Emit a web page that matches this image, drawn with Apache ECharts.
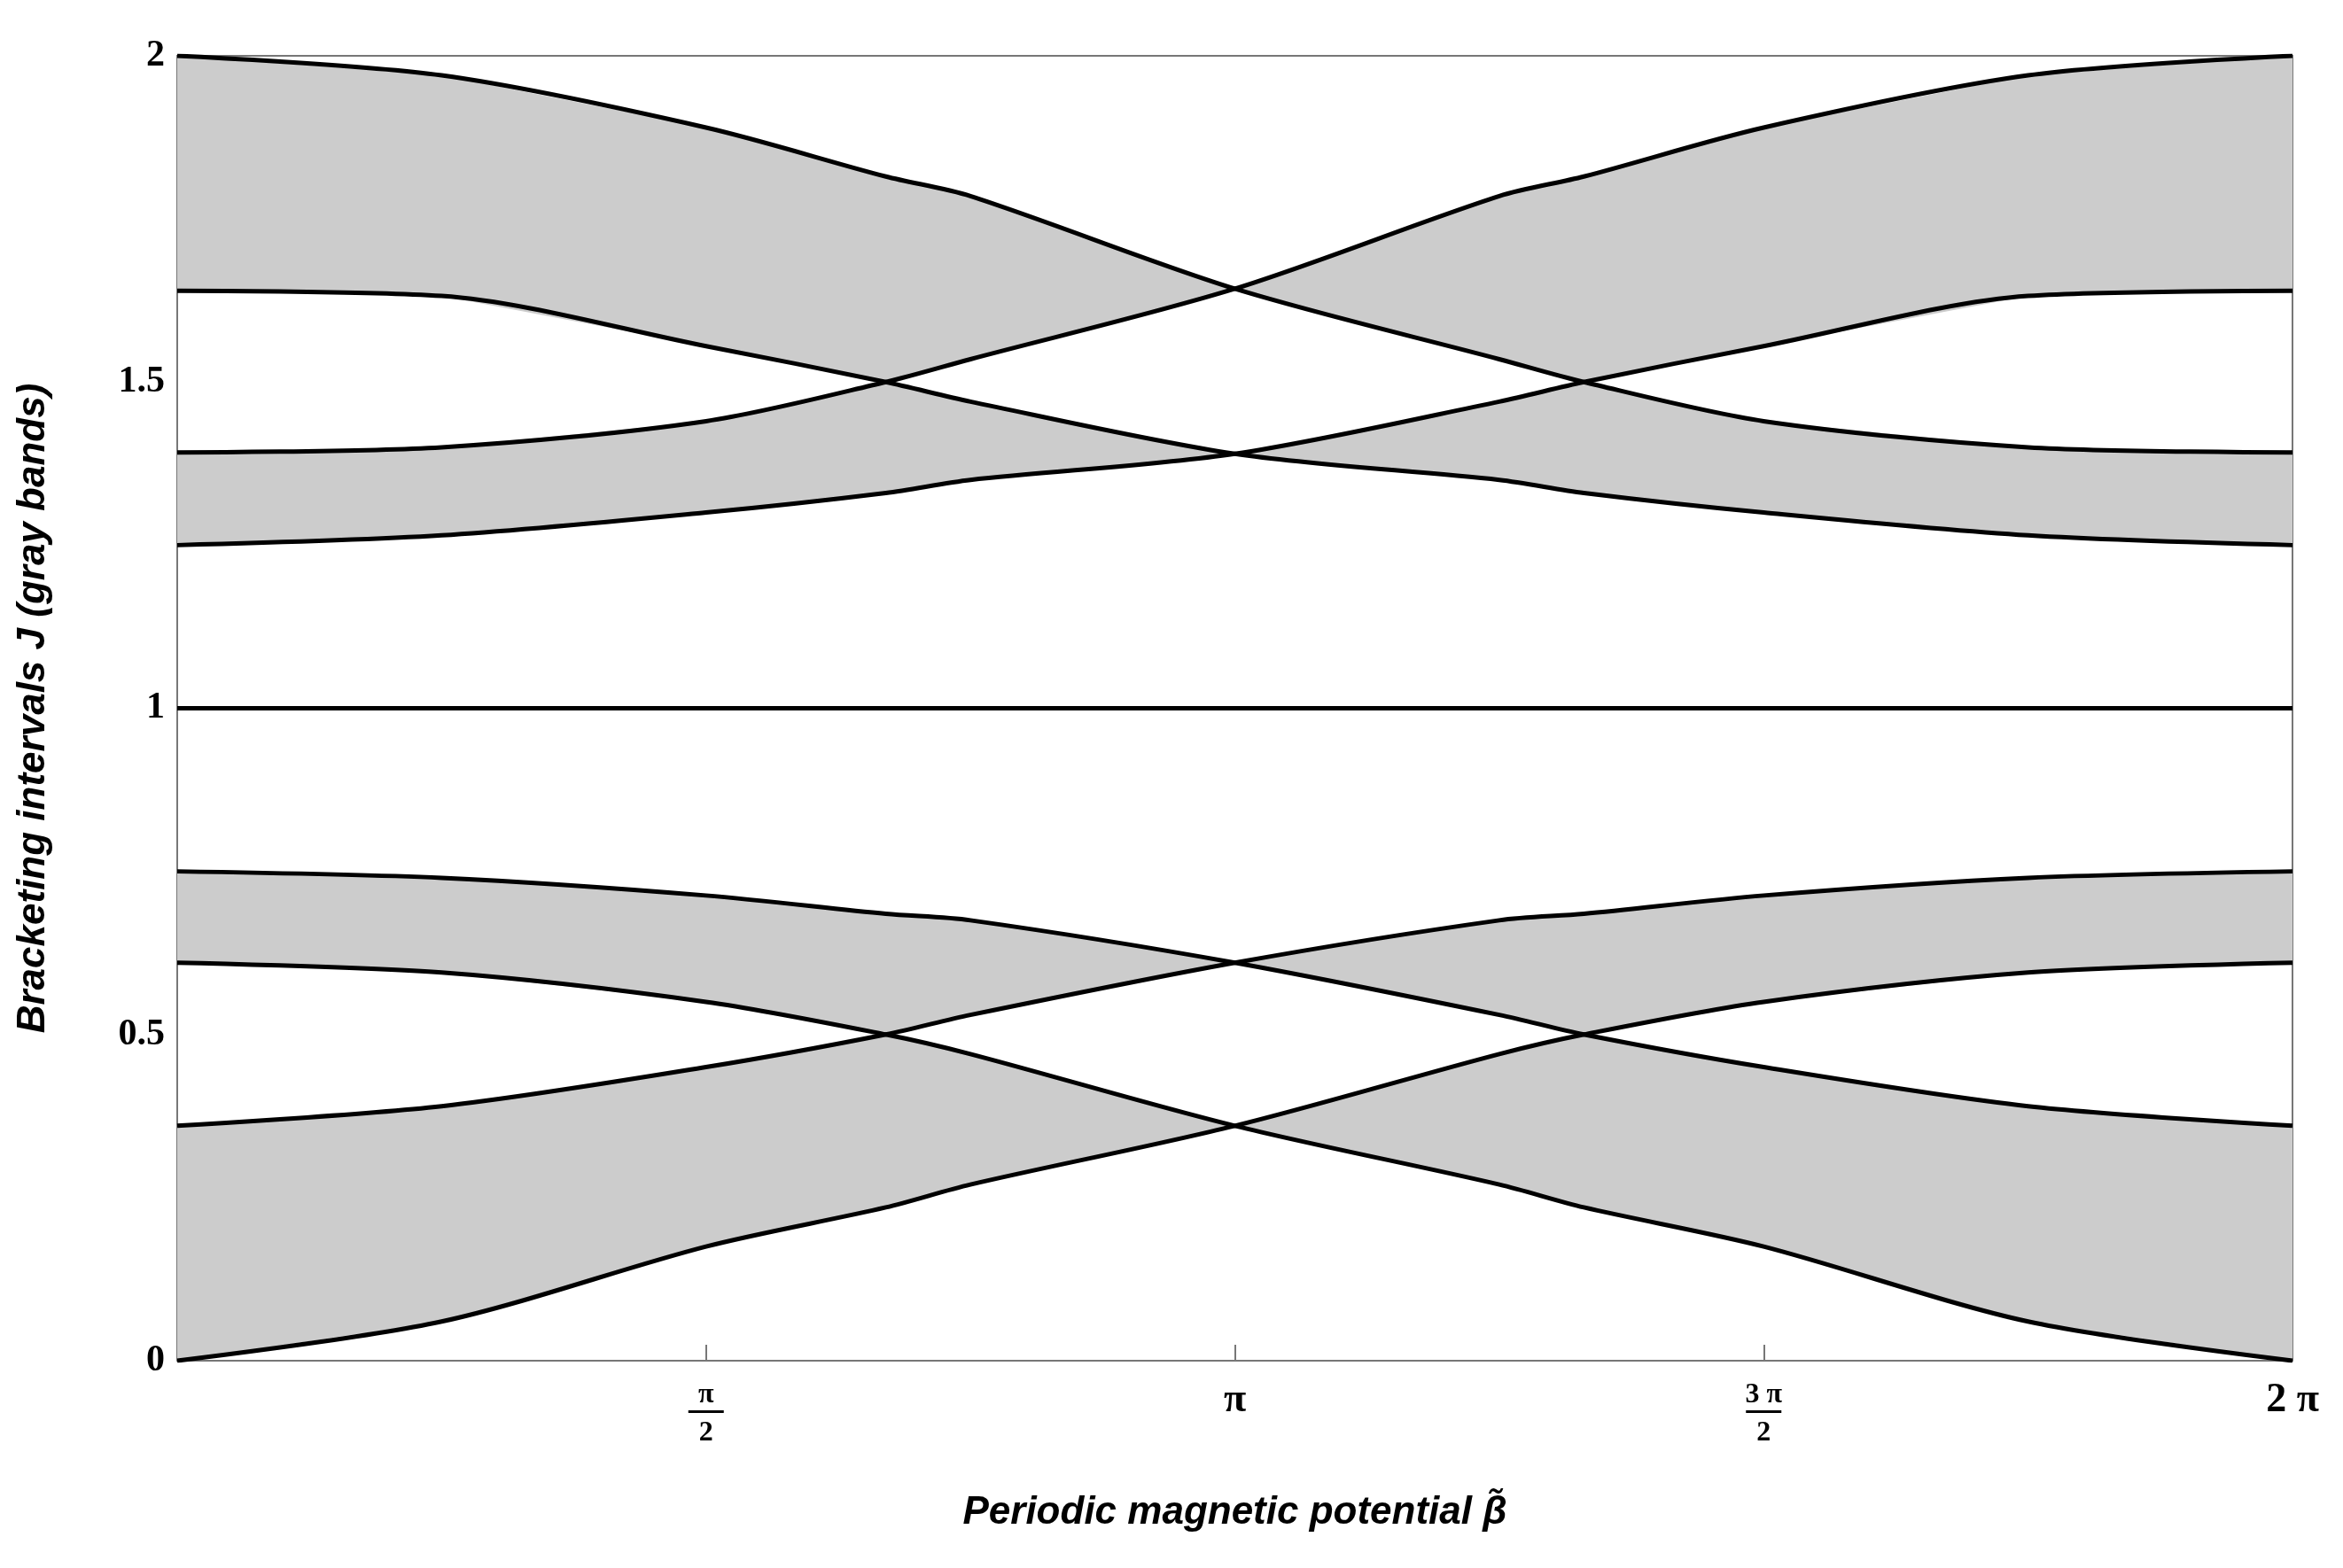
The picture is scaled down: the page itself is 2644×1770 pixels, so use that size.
<!DOCTYPE html>
<html><head><meta charset="utf-8">
<script src="https://cdn.jsdelivr.net/npm/echarts@6/dist/echarts.min.js"></script>
<style>html,body{margin:0;padding:0;background:#fff}#c{width:2644px;height:1770px}</style>
</head><body><div id="c"></div>
<script>
// x positions in units of pi
const xs = [0, 0.25, 0.5, 0.67, 0.75, 1, 1.25, 1.33, 1.5, 1.75, 2];
const curveA = [2.0, 1.97, 1.89, 1.815, 1.785, 1.643, 1.535, 1.50, 1.44, 1.40, 1.392];
const curveB = [1.392, 1.40, 1.44, 1.50, 1.535, 1.643, 1.785, 1.815, 1.89, 1.97, 2.0];
const curveC = [1.64, 1.632, 1.555, 1.50, 1.47, 1.39, 1.35, 1.33, 1.30, 1.265, 1.25];
const curveD = [1.25, 1.265, 1.30, 1.33, 1.35, 1.39, 1.47, 1.50, 1.555, 1.632, 1.64];
const curveE = [0.75, 0.74, 0.713, 0.685, 0.675, 0.61, 0.53, 0.50, 0.45, 0.39, 0.36];
const curveF = [0.61, 0.595, 0.55, 0.50, 0.47, 0.36, 0.27, 0.235, 0.175, 0.06, 0.0];
const curveG = [0.0, 0.06, 0.175, 0.235, 0.27, 0.36, 0.47, 0.50, 0.55, 0.595, 0.61];
const curveH = [0.36, 0.39, 0.45, 0.50, 0.53, 0.61, 0.675, 0.685, 0.713, 0.74, 0.75];
const middle = [1, 1, 1, 1, 1, 1, 1, 1, 1, 1, 1];
const yTicks = ['0', '0.5', '1', '1.5', '2'];

const smooth = 0.3;
// gray band polygons between sorted envelopes (1st-2nd and 3rd-4th)
function bandSeries(group) {
  const s = xs.map((_, i) => group.map(c => c[i]).sort((a, b) => a - b));
  const pairs = [[0, 1], [2, 3]];
  return {
    type: 'custom', silent: true, z: 1,
    data: [0],
    renderItem: (params, api) => ({
      type: 'group',
      children: pairs.map(([lo, hi]) => {
        const pts = [];
        xs.forEach((x, i) => pts.push(api.coord([x, s[i][hi]])));
        for (let i = xs.length - 1; i >= 0; i--) pts.push(api.coord([xs[i], s[i][lo]]));
        return { type: 'polygon', shape: { points: pts }, style: { fill: '#cccccc', stroke: null } };
      })
    })
  };
}
function line(c) {
  return { type: 'line', smooth, symbol: 'none', silent: true,
    lineStyle: { color: '#000', width: 5 }, data: c.map((v, i) => [xs[i], v]), z: 3 };
}
const series = [
  bandSeries([curveA, curveB, curveC, curveD]),
  bandSeries([curveE, curveF, curveG, curveH]),
  ...[curveA, curveB, curveC, curveD, curveE, curveF, curveG, curveH, middle].map(line)
];
const serif = 'Liberation Serif';
const chart = echarts.init(document.getElementById('c'));
chart.setOption({
  animation: false,
  backgroundColor: '#fff',
  grid: { left: 200, right: 57, top: 63, bottom: 234, show: true, borderColor: '#777', borderWidth: 2 },
  xAxis: {
    type: 'value', min: 0, max: 2, interval: 0.5,
    name: 'Periodic magnetic potential \u03B2\u0303', nameLocation: 'middle', nameGap: 150,
    nameTextStyle: { fontFamily: 'Liberation Sans', fontStyle: 'italic', fontWeight: 'bold', fontSize: 44, color: '#000' },
    axisLine: { show: true, onZero: false, lineStyle: { color: '#777', width: 2 } },
    axisTick: { show: true, inside: true, length: 18, lineStyle: { color: '#777', width: 2 } },
    splitLine: { show: false },
    axisLabel: {
      margin: 22, color: '#000',
      formatter: v => v === 0 ? '' : v === 0.5 ? '{n|\u03C0}\n{r|}\n{d|2}' : v === 1 ? '{p|\u03C0}' : v === 1.5 ? '{n|3 \u03C0}\n{r|}\n{d|2}' : '{p|2 \u03C0}',
      rich: {
        n: { fontFamily: serif, fontWeight: 'bold', fontSize: 32, align: 'center', lineHeight: 34 },
        r: { width: 40, height: 3, backgroundColor: '#000', align: 'center' },
        d: { fontFamily: serif, fontWeight: 'bold', fontSize: 32, align: 'center', lineHeight: 46 },
        p: { fontFamily: serif, fontWeight: 'bold', fontSize: 46 }
      }
    }
  },
  yAxis: {
    type: 'value', min: 0, max: 2, interval: 0.5,
    name: 'Bracketing intervals J (gray bands)', nameLocation: 'middle', nameGap: 140,
    nameTextStyle: { fontFamily: 'Liberation Sans', fontStyle: 'italic', fontWeight: 'bold', fontSize: 44, color: '#000' },
    axisLine: { show: true, lineStyle: { color: '#777', width: 2 } },
    axisTick: { show: false }, splitLine: { show: false },
    axisLabel: { margin: 14, color: '#000', fontFamily: serif, fontWeight: 'bold', fontSize: 42,
      formatter: v => yTicks[Math.round(v * 2)] }
  },
  series
});
</script></body></html>
